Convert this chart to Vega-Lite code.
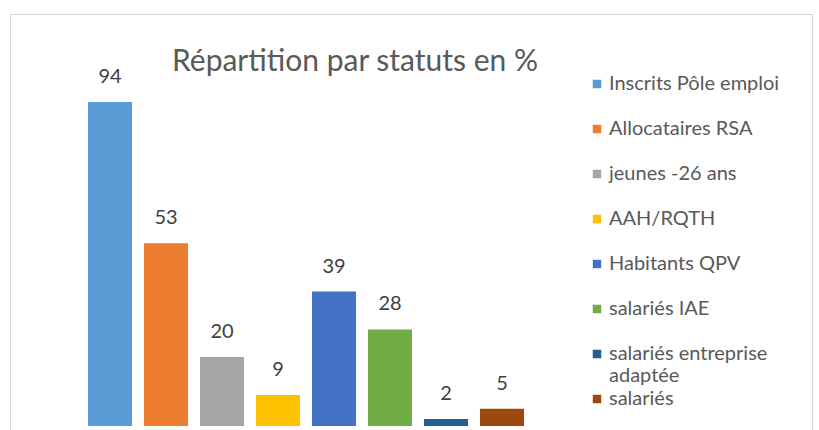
{
  "$schema": "https://vega.github.io/schema/vega-lite/v6.json",
  "width": 802,
  "height": 418,
  "autosize": {"type": "none"},
  "padding": {"left": 10, "top": 14, "right": 7, "bottom": 0},
  "background": "white",
  "title": {
    "text": "Répartition par statuts en %",
    "anchor": "middle",
    "frame": "group",
    "offset": 0,
    "baseline": "alphabetic",
    "dx": -56,
    "dy": 87,
    "font": "Lato",
    "fontSize": 30,
    "fontWeight": "normal",
    "color": "#595959"
  },
  "config": {
    "view": {"stroke": "#d4d4d4", "strokeWidth": 1},
    "font": "Lato"
  },
  "data": {
    "values": [
      {"statut": "Inscrits Pôle emploi", "valeur": 94},
      {"statut": "Allocataires RSA", "valeur": 53},
      {"statut": "jeunes -26 ans", "valeur": 20},
      {"statut": "AAH/RQTH", "valeur": 9},
      {"statut": "Habitants QPV", "valeur": 39},
      {"statut": "salariés IAE", "valeur": 28},
      {"statut": "salariés entreprise adaptée", "valeur": 2},
      {"statut": "salariés", "valeur": 5}
    ]
  },
  "encoding": {
    "x": {
      "field": "statut",
      "type": "nominal",
      "sort": null,
      "axis": null,
      "scale": {"range": [72, 520], "paddingInner": 0.214, "paddingOuter": 0.107}
    },
    "y": {
      "field": "valeur",
      "type": "quantitative",
      "axis": null,
      "scale": {"domain": [-1.74, 119.5], "nice": false, "zero": false}
    }
  },
  "layer": [
    {
      "mark": {"type": "bar"},
      "encoding": {
        "color": {
          "field": "statut",
          "type": "nominal",
          "sort": null,
          "scale": {
            "domain": ["Inscrits Pôle emploi", "Allocataires RSA", "jeunes -26 ans", "AAH/RQTH", "Habitants QPV", "salariés IAE", "salariés entreprise adaptée", "salariés"],
            "range": ["#5B9BD5", "#ED7D31", "#A5A5A5", "#FFC000", "#4472C4", "#70AD47", "#255E91", "#9E480E"]
          },
          "legend": {
            "title": null,
            "orient": "none",
            "legendX": 577,
            "legendY": 60,
            "padding": 0,
            "symbolType": "square",
            "symbolSize": 72,
            "symbolStrokeWidth": 0,
            "labelFont": "Lato",
            "labelFontSize": 20,
            "labelColor": "#595959",
            "labelOffset": 2,
            "labelLimit": 300,
            "rowPadding": 3,
            "labelExpr": "datum.label == 'salariés entreprise adaptée' ? ['salariés entreprise', 'adaptée'] : [datum.label, '']"
          }
        }
      }
    },
    {
      "mark": {"type": "text", "baseline": "alphabetic", "dy": -19, "fontSize": 20, "font": "Lato", "color": "#404040"},
      "encoding": {
        "text": {"field": "valeur", "type": "quantitative"}
      }
    }
  ]
}
